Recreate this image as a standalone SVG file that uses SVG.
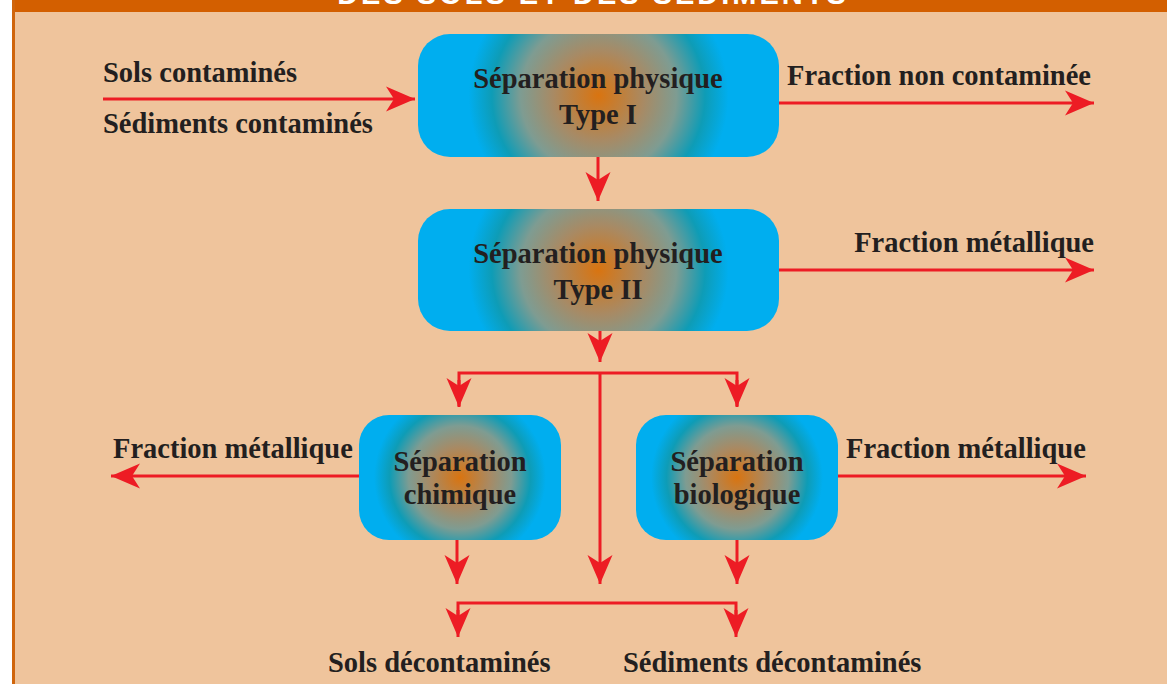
<svg xmlns="http://www.w3.org/2000/svg" width="1167" height="684" viewBox="0 0 1167 684">
<defs>
<style>
.t{font-family:"Liberation Serif","Times New Roman",serif;font-weight:bold;font-size:28.5px;fill:#231F20}
.c{text-anchor:middle}
.ln{fill:none;stroke:#ED1C24;stroke-width:3}
.ar{marker-end:url(#ah)}
</style>
<marker id="ah" markerUnits="userSpaceOnUse" viewBox="-30 -13 31 26" refX="0" refY="0" markerWidth="31" markerHeight="26" orient="auto">
<path d="M0,0 L-29,-12.5 L-21,0 L-29,12.5 Z" fill="#ED1C24"/>
</marker>
<radialGradient id="gL" gradientUnits="objectBoundingBox" cx="0.5" cy="0.5" r="0.5" gradientTransform="translate(0.5 0.5) scale(0.72 2.1) translate(-0.5 -0.5)">
<stop offset="0" stop-color="#D97410"/>
<stop offset="0.35" stop-color="#A88A64"/>
<stop offset="0.6" stop-color="#7E9C92"/>
<stop offset="0.82" stop-color="#0E9CB6"/>
<stop offset="1" stop-color="#00AEEF"/>
</radialGradient>
<radialGradient id="gS" gradientUnits="objectBoundingBox" cx="0.5" cy="0.5" r="0.5" gradientTransform="translate(0.5 0.5) scale(0.85 1.38) translate(-0.5 -0.5)">
<stop offset="0" stop-color="#D97410"/>
<stop offset="0.35" stop-color="#A88A64"/>
<stop offset="0.6" stop-color="#7E9C92"/>
<stop offset="0.82" stop-color="#0E9CB6"/>
<stop offset="1" stop-color="#00AEEF"/>
</radialGradient>
</defs>
<rect x="0" y="0" width="1167" height="684" fill="#FFFFFF"/>
<rect x="12" y="0" width="1155" height="684" fill="#EFC49C"/>
<rect x="12" y="0" width="1155" height="12" fill="#D35F00"/>
<rect x="12" y="0" width="3" height="684" fill="#D0650C"/>
<text x="593" y="4" text-anchor="middle" style="font-family:'Liberation Sans',Arial,sans-serif;font-weight:bold;font-size:29px;fill:#FFFFFF;letter-spacing:3px">DES SOLS ET DES SÉDIMENTS</text>

<g id="connectors">
<line class="ln ar" x1="103" y1="99" x2="415" y2="99"/>
<line class="ln ar" x1="779" y1="103" x2="1094" y2="103"/>
<line class="ln ar" x1="598" y1="157" x2="598" y2="201"/>
<line class="ln ar" x1="779" y1="270" x2="1094" y2="270"/>
<line class="ln ar" x1="600" y1="331" x2="600" y2="362"/>
<polyline class="ln" points="459,406 459,373 737,373 737,406"/>
<line class="ln ar" x1="459" y1="380" x2="459" y2="407"/>
<line class="ln ar" x1="737" y1="380" x2="737" y2="407"/>
<line class="ln ar" x1="600" y1="373" x2="600" y2="584"/>
<line class="ln ar" x1="359" y1="476" x2="111" y2="476"/>
<line class="ln ar" x1="838" y1="476" x2="1086" y2="476"/>
<line class="ln ar" x1="457" y1="540" x2="457" y2="584"/>
<line class="ln ar" x1="737" y1="540" x2="737" y2="584"/>
<polyline class="ln" points="458,630 458,603 736,603 736,630"/>
<line class="ln ar" x1="458" y1="610" x2="458" y2="637"/>
<line class="ln ar" x1="736" y1="610" x2="736" y2="637"/>
</g>

<g id="box1">
<rect x="418" y="34" width="361" height="123" rx="32" fill="url(#gL)"/>
<text class="t c" x="598" y="88">Séparation physique</text>
<text class="t c" x="598" y="124">Type I</text>
</g>
<g id="box2">
<rect x="418" y="209" width="361" height="122" rx="32" fill="url(#gL)"/>
<text class="t c" x="598" y="263">Séparation physique</text>
<text class="t c" x="598" y="299">Type II</text>
</g>
<g id="box3">
<rect x="359" y="415" width="202" height="125" rx="30" fill="url(#gS)"/>
<text class="t c" x="460" y="471">Séparation</text>
<text class="t c" x="460" y="504">chimique</text>
</g>
<g id="box4">
<rect x="636" y="415" width="202" height="125" rx="30" fill="url(#gS)"/>
<text class="t c" x="737" y="471">Séparation</text>
<text class="t c" x="737" y="504">biologique</text>
</g>

<g id="labels">
<text class="t" x="103" y="82">Sols contaminés</text>
<text class="t" x="103" y="133">Sédiments contaminés</text>
<text class="t" x="787" y="85">Fraction non contaminée</text>
<text class="t" x="1094" y="252" text-anchor="end">Fraction métallique</text>
<text class="t" x="113" y="458">Fraction métallique</text>
<text class="t" x="846" y="458">Fraction métallique</text>
<text class="t" x="328" y="672">Sols décontaminés</text>
<text class="t" x="623" y="672">Sédiments décontaminés</text>
</g>
</svg>
